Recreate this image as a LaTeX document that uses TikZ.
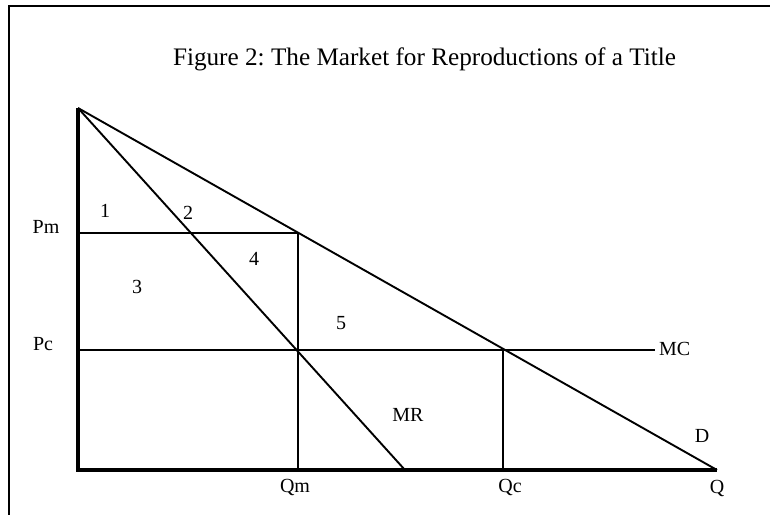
\documentclass[tikz,border=0pt]{standalone}
\usepackage{fontspec}
\setmainfont{Liberation Serif}
\usetikzlibrary{positioning}
\frenchspacing

\tikzset{
  curve/.style={line width=1.9pt},
  axis/.style={line width=4.5pt},
  lab/.style={font=\fontsize{20}{24}\selectfont, anchor=base, inner sep=0pt}
}

\begin{document}
\begin{tikzpicture}[x=1pt,y=-1pt]
\useasboundingbox (0,0) rectangle (770,514);
\clip (0,0) rectangle (770,514);
% frame
\draw[line width=1.8pt] (9,6) rectangle (790,540);
\node[font=\fontsize{25.2}{30}\selectfont, anchor=base, inner sep=0pt] (title) at (424.5,65) {Figure 2: The Market for Reproductions of a Title};

% points
\coordinate (top) at (78,108);
\coordinate (O) at (78,470);
\coordinate (Qend) at (717,470);
\coordinate (MRend) at (405,470);
\coordinate (Pm0) at (78,233);
\coordinate (Pmr) at (298,233);
\coordinate (Pc0) at (78,350);
\coordinate (MCend) at (655,350);
\coordinate (Qm) at (298,470);
\coordinate (Qc0) at (503,350);
\coordinate (Qc) at (503,470);

% demand and marginal revenue
\draw[curve] (top) -- (Qend);
\draw[curve] (top) -- (MRend);

% prices and quantities
\draw[curve] (Pm0) -- (Pmr) -- (Qm);
\draw[curve] (Pc0) -- (MCend);
\draw[curve] (Qc0) -- (Qc);

% axes
\draw[axis] (top) -- (O) -- (Qend);

% labels
\node[lab] (pm) at (46,233) {Pm};
\node[lab] (pc) at (43,350) {Pc};
\node[lab] (a1) at (105,217) {1};
\node[lab] (a2) at (188,219) {2};
\node[lab] (a3) at (137,293) {3};
\node[lab] (a4) at (254,265) {4};
\node[lab] (a5) at (341,329) {5};
\node[lab] (mr) at (408,421) {MR};
\node[lab, anchor=base west] (mc) at (659,355) {MC};
\node[lab] (d) at (702,442) {D};
\node[lab] (qm) at (295,492) {Qm};
\node[lab] (qc) at (510,492) {Qc};
\node[lab] (q) at (717,493) {Q};
\end{tikzpicture}
\end{document}
